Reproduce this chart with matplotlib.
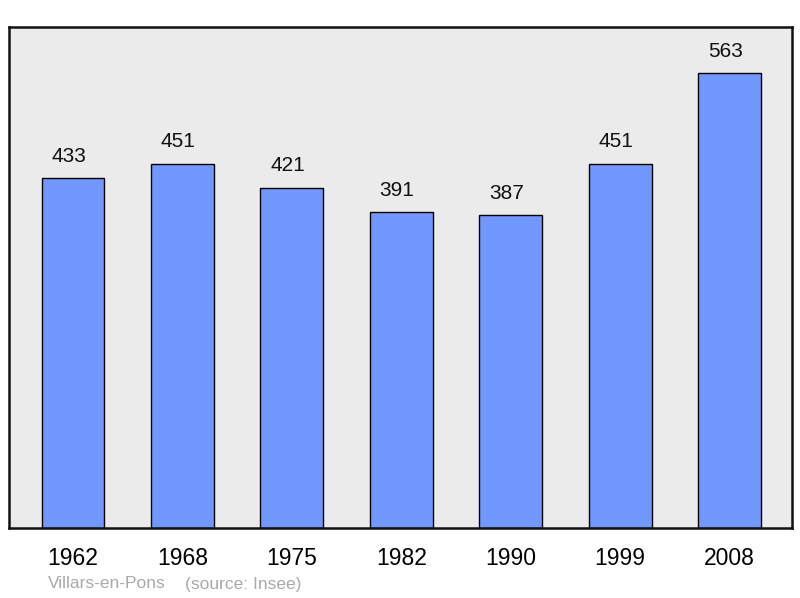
import matplotlib.pyplot as plt

plt.rcParams['font.family'] = ['Liberation Sans', 'DejaVu Sans']

years = ['1962', '1968', '1975', '1982', '1990', '1999', '2008']
population = [433, 451, 421, 391, 387, 451, 563]
commune = 'Villars-en-Pons'
source = '(source: Insee)'

fig = plt.figure(figsize=(8, 5.98), dpi=100)
ax = fig.add_axes([9 / 800, 1 - 528 / 598, 783 / 800, 501 / 598])
ax.set_facecolor('#ebebeb')

x = list(range(len(years)))
ax.bar(x, population, width=0.575, color='#7098ff', edgecolor='black', linewidth=1.0)
for xi, v in zip(x, population):
    ax.annotate(str(v), (xi, v), xytext=(-3, 9), textcoords='offset points',
                ha='center', va='bottom', fontsize=15, color='#111111')

ax.set_xlim(-0.585, 6.57)
ax.set_ylim(0, 620)
ax.set_yticks([])
ax.set_xticks(x)
ax.set_xticklabels(years, fontsize=16.5)
ax.tick_params(axis='x', length=0, pad=14)
for s in ax.spines.values():
    s.set_linewidth(1.8)
    s.set_color('#111111')

fig.text(48 / 800, 1 - 584 / 598, commune, fontsize=12.5,
         color='#aaaaaa', ha='left', va='center')
fig.text(185 / 800, 1 - 584 / 598, source, fontsize=12.5,
         color='#aaaaaa', ha='left', va='center')

fig.savefig('out.png', dpi=100)
